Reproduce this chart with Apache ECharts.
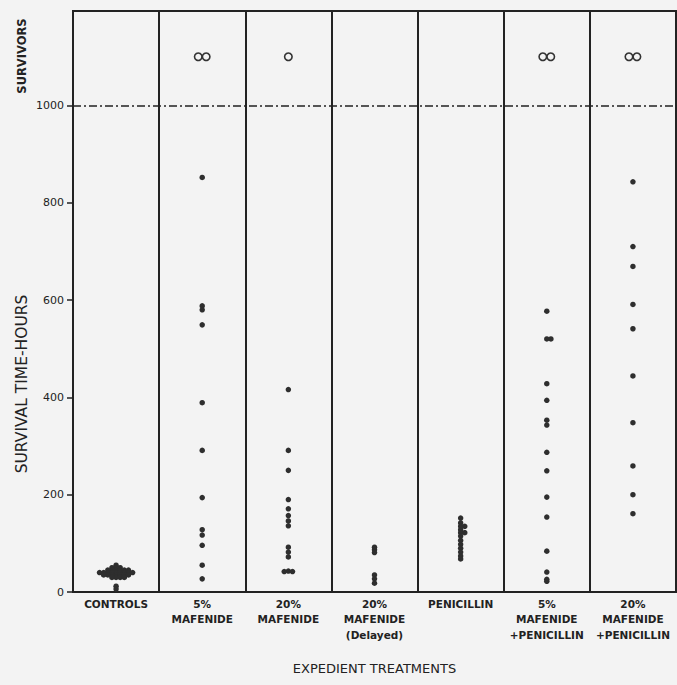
<!DOCTYPE html>
<html><head><meta charset="utf-8">
<script src="https://cdn.jsdelivr.net/npm/echarts@6/dist/echarts.min.js"></script>
<style>html,body{margin:0;padding:0;background:#f3f3f3}#chart{width:677px;height:685px}</style>
</head><body><div id="chart"></div>
<script>
// ---- data ----
const categories = ['CONTROLS', '5%\nMAFENIDE', '20%\nMAFENIDE', '20%\nMAFENIDE\n(Delayed)', 'PENICILLIN', '5%\nMAFENIDE\n+PENICILLIN', '20%\nMAFENIDE\n+PENICILLIN'];
const controls = [55, 50, 50, 50, 45, 45, 45, 45, 45, 45, 40, 40, 40, 40, 40, 40, 40, 40, 40, 35, 35, 35, 35, 35, 35, 35, 30, 30, 30, 30, 12, 6];
const mafenide5 = [852, 588, 580, 549, 389, 291, 194, 128, 117, 96, 55, 27];
const mafenide20 = [416, 291, 250, 190, 171, 157, 146, 136, 92, 82, 72, 43, 42, 42];
const mafenide20Delayed = [92, 87, 81, 35, 27, 18];
const penicillin = [152, 142, 135, 135, 128, 122, 122, 115, 106, 98, 90, 82, 74, 68];
const mafenide5Pen = [577, 520, 520, 428, 394, 353, 343, 287, 249, 195, 154, 84, 41, 26, 22];
const mafenide20Pen = [843, 710, 669, 591, 541, 444, 348, 259, 200, 161];
const survivors = [0, 2, 1, 0, 0, 2, 2];
const yTicks = [0, 200, 400, 600, 800, 1000];
const survivorLine = 1000;
const survivorLevel = 1100;

// ---- layout: simple beeswarm so coincident values sit side by side ----
const groups = [controls, mafenide5, mafenide20, mafenide20Delayed, penicillin, mafenide5Pen, mafenide20Pen];
function swarm(values, ci, step, tol) {
  const placed = [];
  return values.map(v => {
    const k = placed.filter(p => Math.abs(p - v) < tol).length;
    placed.push(v);
    const off = k === 0 ? 0 : (k % 2 ? 1 : -1) * Math.ceil(k / 2) * step;
    return [ci + 0.5 + off, v];
  });
}
const dots = [];
groups.forEach((g, i) => dots.push(...swarm(g, i, 0.048, 2.5)));
const survivorPts = [];
survivors.forEach((n, i) => {
  if (n === 0) return;
  const pts = swarm(Array(n).fill(survivorLevel), i, 0.092, 1);
  const mean = pts.reduce((s, p) => s + p[0], 0) / pts.length;
  pts.forEach(p => survivorPts.push([p[0] - mean + i + 0.5, p[1]]));
});

const ink = '#222';
const chart = echarts.init(document.getElementById('chart'), null, {renderer: 'svg'});
chart.setOption({
  backgroundColor: '#f3f3f3',
  animation: false,
  grid: {left: 73, right: 1, top: 11, bottom: 93, show: true, borderColor: ink, borderWidth: 2, backgroundColor: 'transparent'},
  xAxis: [{
    type: 'category', data: categories, boundaryGap: true,
    axisLine: {show: true, lineStyle: {color: ink, width: 2}},
    axisTick: {show: false},
    splitLine: {show: true, lineStyle: {color: ink, width: 2}},
    axisLabel: {interval: 0, margin: 4, color: ink, fontSize: 10.5, fontWeight: 'bold', lineHeight: 15.5,
      fontFamily: '"DejaVu Sans", sans-serif'},
    name: 'EXPEDIENT TREATMENTS', nameLocation: 'middle', nameGap: 70,
    nameTextStyle: {color: ink, fontSize: 13, fontFamily: '"DejaVu Sans", sans-serif'}
  }, {
    type: 'value', min: 0, max: 7, show: false
  }],
  yAxis: {
    type: 'value', min: 0, max: 1194, interval: 200,
    axisLine: {show: true, lineStyle: {color: ink, width: 2}},
    axisTick: {show: true, length: 6, lineStyle: {color: ink, width: 1.5}, customValues: yTicks},
    axisLabel: {color: ink, fontSize: 11, margin: 9, customValues: yTicks, formatter: v => String(v),
      fontFamily: '"DejaVu Sans", sans-serif'},
    splitLine: {show: false}
  },
  graphic: [
    {type: 'text', x: 22, y: 56, rotation: Math.PI / 2,
      style: {text: 'SURVIVORS', fill: ink, font: 'bold 11.5px "DejaVu Sans", sans-serif', align: 'center', verticalAlign: 'middle'}},
    {type: 'text', x: 22, y: 384, rotation: Math.PI / 2,
      style: {text: 'SURVIVAL TIME-HOURS', fill: ink, font: '15.5px "DejaVu Sans", sans-serif', align: 'center', verticalAlign: 'middle'}}
  ],
  series: [{
    type: 'scatter', xAxisIndex: 1, data: dots, symbolSize: 5.5,
    itemStyle: {color: '#2e2e2e', opacity: 1}
  }, {
    type: 'scatter', xAxisIndex: 1, data: survivorPts, symbol: 'circle', symbolSize: 7.5,
    itemStyle: {color: '#f3f3f3', borderColor: '#333', borderWidth: 1.6, opacity: 1},
    markLine: {silent: true, symbol: 'none', label: {show: false},
      lineStyle: {color: ink, width: 1.5, type: [8, 3, 2, 3]},
      data: [{yAxis: survivorLine}]}
  }]
});
</script></body></html>
